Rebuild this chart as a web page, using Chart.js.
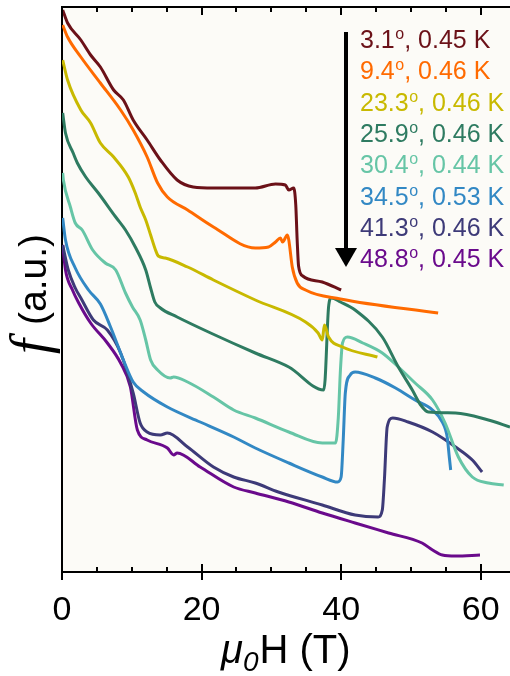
<!DOCTYPE html>
<html>
<head>
<meta charset="utf-8">
<script src="https://cdn.jsdelivr.net/npm/chart.js@4"></script>
<style>
  body { margin: 0; background: #fff; }
</style>
</head>
<body>
<canvas id="fieldChart" width="510" height="676"></canvas>
<script>
// legend text per curve: tilt angle (deg) and temperature (K)
const angles = ["3.1", "9.4", "23.3", "25.9", "30.4", "34.5", "41.3", "48.8"];
const temps = ["0.45", "0.46", "0.46", "0.46", "0.44", "0.53", "0.46", "0.45"];
const colors = ["#6b1118", "#ff6a00", "#c8b900", "#2e7b61", "#66c5a6", "#3288c4", "#3d3a78", "#6a0a8c"];

// field (T) and frequency (a.u.), one pair per curve
const h1 = [0.1, 0.8, 2.7, 4.1, 5.5, 7.4, 8.8, 10.2, 12.2, 14.1, 16.5, 18.8, 21.7, 27.7, 30.6, 32.0, 32.5, 33.2, 33.5, 33.7, 33.9, 34.5, 37.3, 40.0];
const f1 = [5.62, 5.49, 5.32, 5.17, 5.05, 4.82, 4.72, 4.52, 4.32, 4.12, 3.92, 3.85, 3.84, 3.84, 3.88, 3.87, 3.82, 3.84, 3.67, 3.32, 3.06, 2.96, 2.90, 2.82];

const h2 = [0.1, 0.8, 2.7, 5.5, 8.4, 10.2, 12.2, 13.7, 15.1, 18.0, 21.7, 27.7, 29.6, 30.6, 31.3, 31.6, 32.3, 32.5, 33.0, 33.7, 34.9, 39.9, 53.9];
const f2 = [5.47, 5.35, 5.15, 4.89, 4.62, 4.42, 4.15, 3.89, 3.75, 3.62, 3.45, 3.24, 3.25, 3.30, 3.34, 3.30, 3.37, 3.32, 3.05, 2.89, 2.82, 2.73, 2.59];

const h3 = [0.1, 0.8, 2.7, 4.1, 5.5, 7.4, 9.5, 10.5, 11.2, 12.0, 12.7, 13.4, 13.8, 14.8, 18.0, 21.7, 27.7, 34.9, 36.7, 37.3, 37.6, 38.2, 40.2, 45.2];
const f3 = [5.12, 4.92, 4.62, 4.49, 4.29, 4.15, 3.95, 3.79, 3.65, 3.52, 3.37, 3.22, 3.16, 3.14, 3.05, 2.92, 2.72, 2.50, 2.39, 2.32, 2.47, 2.35, 2.25, 2.15];

const h4 = [0.1, 0.5, 1.6, 2.2, 3.4, 5.2, 7.7, 9.1, 10.5, 12.0, 12.7, 13.3, 14.1, 16.5, 21.3, 27.7, 32.5, 37.5, 37.7, 38.2, 38.6, 39.9, 42.0, 45.9, 48.2, 50.2, 51.4, 52.5, 56.4, 61.1, 64.2];
const f4 = [4.59, 4.39, 4.19, 4.09, 3.95, 3.79, 3.55, 3.42, 3.25, 3.02, 2.84, 2.70, 2.64, 2.55, 2.39, 2.19, 2.05, 1.82, 1.92, 2.65, 2.74, 2.70, 2.62, 2.35, 2.05, 1.82, 1.67, 1.60, 1.59, 1.52, 1.45];

const h5 = [0.1, 0.2, 1.2, 1.9, 2.9, 4.4, 6.2, 7.7, 9.1, 10.1, 11.2, 12.0, 12.7, 13.7, 15.5, 16.0, 18.0, 21.7, 24.6, 27.7, 32.5, 37.3, 39.2, 39.6, 39.9, 40.2, 40.9, 43.1, 45.9, 48.2, 50.6, 53.1, 54.9, 56.8, 58.8, 61.1, 63.3];
const f5 = [3.99, 3.92, 3.65, 3.49, 3.42, 3.22, 3.09, 3.02, 2.79, 2.65, 2.52, 2.32, 2.12, 2.02, 1.94, 1.95, 1.90, 1.75, 1.62, 1.54, 1.40, 1.29, 1.29, 1.55, 2.02, 2.29, 2.35, 2.29, 2.19, 2.05, 1.89, 1.72, 1.49, 1.15, 0.95, 0.89, 0.87];

const h6 = [0.1, 0.5, 1.9, 3.8, 5.5, 6.9, 8.8, 10.2, 11.7, 15.1, 19.8, 24.6, 27.7, 32.5, 37.3, 39.5, 40.0, 40.3, 40.6, 41.3, 42.0, 44.9, 47.8, 50.6, 53.1, 54.5, 55.2, 55.5, 55.7];
const f6 = [3.54, 3.32, 3.04, 2.82, 2.68, 2.46, 2.12, 1.90, 1.80, 1.65, 1.50, 1.35, 1.24, 1.09, 0.95, 0.90, 0.95, 1.32, 1.79, 1.97, 2.00, 1.94, 1.84, 1.72, 1.62, 1.50, 1.35, 1.15, 1.02];

const h7 = [0.1, 0.9, 1.9, 2.7, 4.5, 6.5, 8.4, 10.2, 11.2, 12.2, 14.1, 15.1, 18.0, 21.7, 24.6, 27.7, 31.0, 37.3, 42.0, 45.3, 45.9, 46.2, 46.6, 47.4, 49.6, 53.1, 56.4, 58.8, 60.2];
const f7 = [3.27, 3.02, 2.84, 2.74, 2.52, 2.42, 2.19, 1.79, 1.49, 1.40, 1.37, 1.39, 1.25, 1.05, 0.95, 0.89, 0.80, 0.67, 0.57, 0.55, 0.62, 0.92, 1.45, 1.54, 1.50, 1.40, 1.25, 1.12, 1.00];

const h8 = [0.1, 0.5, 1.5, 2.4, 4.1, 6.5, 8.4, 9.8, 10.8, 12.2, 15.1, 16.0, 16.5, 19.8, 24.6, 27.7, 32.5, 37.3, 42.0, 46.8, 51.6, 53.1, 54.5, 56.4, 59.9];
const f8 = [3.27, 3.02, 2.82, 2.69, 2.49, 2.29, 2.09, 1.85, 1.42, 1.32, 1.24, 1.17, 1.19, 1.05, 0.85, 0.79, 0.70, 0.59, 0.49, 0.39, 0.29, 0.22, 0.17, 0.16, 0.17];

const xTicks = [0, 20, 40, 60];

const fields = [h1, h2, h3, h4, h5, h6, h7, h8];
const freqs = [f1, f2, f3, f4, f5, f6, f7, f8];

const sans = "'Liberation Sans', Arial, sans-serif";

// background, frame ticks, legend and axis titles
const decor = {
  id: "decor",
  beforeDraw(chart) {
    const { ctx, chartArea: a } = chart;
    ctx.save();
    ctx.fillStyle = "#fcfbf7";
    ctx.fillRect(a.left, a.top, a.right - a.left, a.bottom - a.top);
    ctx.restore();
  },
  afterDraw(chart) {
    const { ctx, chartArea: a } = chart;
    const xs = chart.scales.x;
    ctx.save();
    ctx.strokeStyle = "#000";
    ctx.lineWidth = 2;
    ctx.beginPath();
    ctx.moveTo(a.left - 1, a.top);
    ctx.lineTo(a.right, a.top);
    for (let v = 0; v <= 64; v += 5) {
      const px = Math.round(xs.getPixelForValue(v));
      const major = xTicks.includes(v);
      ctx.moveTo(px, a.bottom + (major ? 8 : 0));
      ctx.lineTo(px, a.bottom - (major ? 8 : 5));
      ctx.moveTo(px, a.top);
      ctx.lineTo(px, a.top + (major ? 8 : 5));
    }
    ctx.stroke();

    // arrow next to the legend
    ctx.fillStyle = "#000";
    ctx.fillRect(344, 32, 4, 220);
    ctx.beginPath();
    ctx.moveTo(335, 248);
    ctx.lineTo(357, 248);
    ctx.lineTo(346, 267);
    ctx.closePath();
    ctx.fill();

    // legend rows
    ctx.textBaseline = "alphabetic";
    ctx.textAlign = "left";
    angles.forEach((ang, i) => {
      const y = 48 + i * 31.3;
      let x = 360;
      ctx.fillStyle = colors[i];
      ctx.font = "25px " + sans;
      ctx.fillText(ang, x, y);
      x += ctx.measureText(ang).width + 0.5;
      ctx.font = "16px " + sans;
      ctx.fillText("o", x, y - 9);
      x += ctx.measureText("o").width;
      ctx.font = "25px " + sans;
      ctx.fillText(", " + temps[i] + " K", x, y);
    });

    // x title
    ctx.fillStyle = "#000";
    let tx = 221;
    ctx.font = "italic 40px " + sans;
    ctx.fillText("\u03bc", tx, 663);
    tx += ctx.measureText("\u03bc").width;
    ctx.font = "italic 28px " + sans;
    ctx.fillText("0", tx, 671);
    tx += ctx.measureText("0").width + 1;
    ctx.font = "40px " + sans;
    ctx.fillText("H (T)", tx, 663);

    // y title
    ctx.translate(46, 354);
    ctx.rotate(-Math.PI / 2);
    ctx.font = "italic 54px 'Liberation Serif', 'Times New Roman', serif";
    ctx.fillText("f", 0, 2);
    ctx.font = "39px " + sans;
    ctx.fillText("(a.u.)", 29, 0);
    ctx.restore();
  },
};

new Chart(document.getElementById("fieldChart"), {
  type: "line",
  data: {
    datasets: fields.map((h, k) => ({
      label: angles[k],
      data: h.map((x, i) => ({ x: x, y: freqs[k][i] })),
      borderColor: colors[k],
      borderWidth: 3,
      pointRadius: 0,
      cubicInterpolationMode: "monotone",
      fill: false,
    })),
  },
  options: {
    responsive: false,
    animation: false,
    devicePixelRatio: 1,
    layout: { padding: { top: 7, right: 0, bottom: 0, left: 0 } },
    scales: {
      x: {
        type: "linear",
        min: 0,
        max: 64.2,
        grid: { display: false },
        border: { display: true, color: "#000", width: 2 },
        ticks: {
          stepSize: 20,
          includeBounds: false,
          padding: 10,
          color: "#000",
          font: { family: sans, size: 34 },
          maxRotation: 0,
        },
        afterFit: (scale) => {
          scale.height = 104;
        },
      },
      y: {
        type: "linear",
        min: 0,
        max: 5.65,
        grid: { display: false },
        border: { display: true, color: "#000", width: 2 },
        ticks: { display: false },
        afterFit: (scale) => {
          scale.width = 62;
        },
      },
    },
    plugins: {
      legend: { display: false },
      tooltip: { enabled: false },
    },
  },
  plugins: [decor],
});
</script>
</body>
</html>
